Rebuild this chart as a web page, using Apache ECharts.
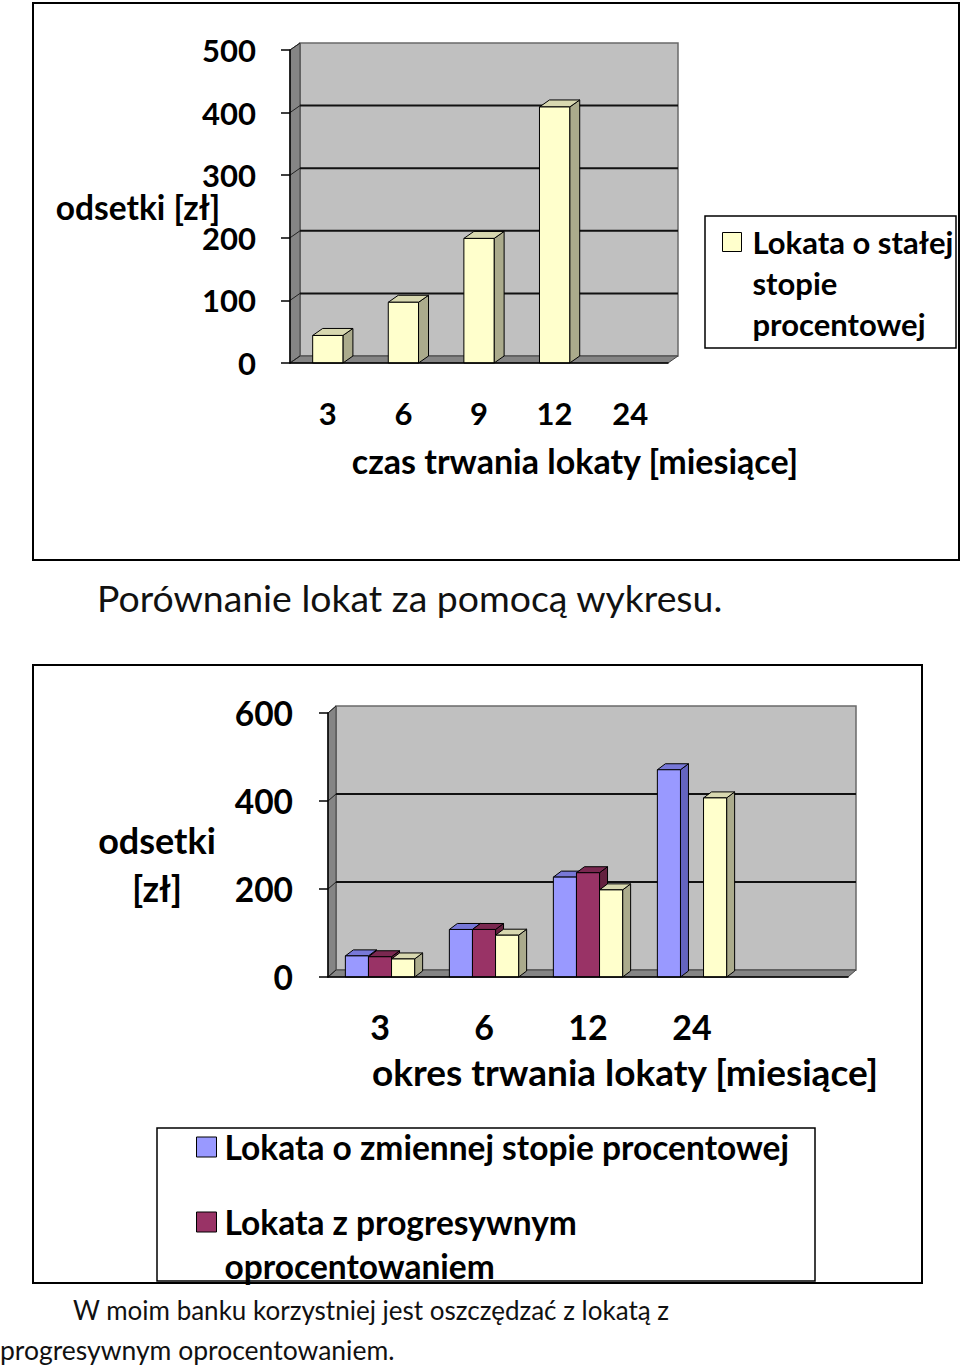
<!DOCTYPE html>
<html><head><meta charset="utf-8">
<script src="https://cdn.jsdelivr.net/npm/echarts@6/dist/echarts.min.js"></script>
<style>html,body{margin:0;padding:0;background:#fff}#c{width:960px;height:1366px}</style>
</head><body><div id="c"></div>
<script>
// ---- data ----
const topCategories = ['3', '6', '9', '12', '24'];
const topFixed = [44, 97, 199, 409, null];
const topYTicks = [0, 100, 200, 300, 400, 500];

const bottomCategories = ['3', '6', '12', '24', ''];
const bottomVariable = [48, 108, 227, 471, null];
const bottomProgressive = [46, 108, 237, null, null];
const bottomFixed = [41, 95, 198, 407, null];
const bottomYTicks = [0, 200, 400, 600];

const nameFixed = 'Lokata o stałej stopie procentowej';
const nameVariable = 'Lokata o zmiennej stopie procentowej';
const nameProgressive = 'Lokata z progresywnym oprocentowaniem';

const colFixed = {front: '#FFFFCC', top: '#D8D8B0', side: '#ABAB8C'};
const colVariable = {front: '#9999FF', top: '#7878D8', side: '#6464C0'};
const colProgressive = {front: '#993366', top: '#7A2850', side: '#64203F'};

const FONT = 'Lato';

function wallSeries(gi, ticks, dx, dy) {
  return {
    type: 'custom', xAxisIndex: gi, yAxisIndex: gi, z: 1, silent: true,
    data: [[0, 0]],
    renderItem(params, api) {
      const cs = params.coordSys;
      const x = cs.x, y = cs.y, w = cs.width, h = cs.height;
      const ch = [];
      ch.push({type: 'rect', shape: {x: x + dx, y: y + dy, width: w, height: h},
        style: {fill: '#C0C0C0', stroke: '#6a6a6a', lineWidth: 1.5}});
      ch.push({type: 'polygon', shape: {points: [[x, y + h], [x, y], [x + dx, y + dy], [x + dx, y + h + dy]]},
        style: {fill: '#858585', stroke: '#444', lineWidth: 1}});
      ch.push({type: 'polygon', shape: {points: [[x, y + h], [x + w, y + h], [x + w + dx, y + h + dy], [x + dx, y + h + dy]]},
        style: {fill: '#858585', stroke: '#444', lineWidth: 1}});
      const maxV = ticks[ticks.length - 1];
      ticks.forEach(v => {
        const py = api.coord([0, v])[1];
        if (v > 0 && v < maxV) {
          ch.push({type: 'line', shape: {x1: x + dx, y1: py + dy, x2: x + dx + w, y2: py + dy},
            style: {stroke: '#111', lineWidth: 2}});
        }
        ch.push({type: 'line', shape: {x1: x, y1: py, x2: x + dx, y2: py + dy},
          style: {stroke: '#222', lineWidth: 1}});
      });
      return {type: 'group', children: ch};
    }
  };
}

function bar3D(name, values, gi, k, n, ratio, col, dx, dy) {
  return {
    type: 'custom', name: name, xAxisIndex: gi, yAxisIndex: gi, z: 3,
    itemStyle: {color: col.front, borderColor: '#000', borderWidth: 1},
    encode: {x: 0, y: 1},
    data: values.map((v, i) => v == null ? null : [i, v]).filter(d => d),
    renderItem(params, api) {
      const cat = api.value(0), v = api.value(1);
      const t = api.coord([cat, v]);
      const b = api.coord([cat, 0]);
      const band = api.size([1, 0])[0];
      const bw = band * ratio;
      const x0 = t[0] - n * bw / 2 + k * bw, x1 = x0 + bw;
      const yt = t[1], yb = b[1];
      return {type: 'group', children: [
        {type: 'polygon', shape: {points: [[x1, yb], [x1, yt], [x1 + dx, yt + dy], [x1 + dx, yb + dy]]},
          style: {fill: col.side, stroke: '#000', lineWidth: 1}},
        {type: 'polygon', shape: {points: [[x0, yt], [x1, yt], [x1 + dx, yt + dy], [x0 + dx, yt + dy]]},
          style: {fill: col.top, stroke: '#000', lineWidth: 1}},
        {type: 'rect', shape: {x: x0, y: yt, width: bw, height: yb - yt},
          style: {fill: col.front, stroke: '#000', lineWidth: 1}}
      ]};
    }
  };
}

const boldLabel = (size) => ({fontFamily: FONT, fontWeight: 'bold', fontSize: size, color: '#000'});

const chart = echarts.init(document.getElementById('c'), null, {renderer: 'svg'});
chart.setOption({
  animation: false,
  backgroundColor: '#fff',
  textStyle: {fontFamily: FONT},
  grid: [
    {left: 290, top: 50, width: 378, height: 313},
    {left: 328, top: 713, width: 520, height: 264}
  ],
  xAxis: [
    {type: 'category', gridIndex: 0, data: topCategories, z: 5,
      axisLine: {lineStyle: {color: '#000', width: 1.5}},
      axisTick: {length: 9, lineStyle: {color: '#000', width: 1.5}},
      axisLabel: Object.assign({margin: 34}, boldLabel(31)),
      name: 'czas trwania lokaty [miesiące]', nameLocation: 'middle', nameGap: 80, nameMoveOverlap: false,
      nameTextStyle: Object.assign({padding: [0, 0, 0, 192]}, boldLabel(34))},
    {type: 'category', gridIndex: 1, data: bottomCategories, z: 5,
      axisLine: {lineStyle: {color: '#000', width: 1.5}},
      axisTick: {length: 9, lineStyle: {color: '#000', width: 1.5}},
      axisLabel: Object.assign({margin: 32}, boldLabel(34)),
      name: 'okres trwania lokaty [miesiące]', nameLocation: 'middle', nameGap: 76, nameMoveOverlap: false,
      nameTextStyle: Object.assign({padding: [0, 0, 0, 74]}, boldLabel(37))}
  ],
  yAxis: [
    {type: 'value', gridIndex: 0, min: topYTicks[0], max: topYTicks[topYTicks.length - 1], interval: 100, z: 5,
      axisLine: {show: true, lineStyle: {color: '#000', width: 1.5}},
      axisTick: {show: true, length: 9, lineStyle: {color: '#000', width: 1.5}},
      splitLine: {show: false},
      axisLabel: Object.assign({margin: 34}, boldLabel(31)),
      name: 'odsetki [zł]', nameLocation: 'middle', nameRotate: 0, nameGap: 152, nameMoveOverlap: false,
      nameTextStyle: Object.assign({align: 'center', verticalAlign: 'middle'}, boldLabel(33.5))},
    {type: 'value', gridIndex: 1, min: bottomYTicks[0], max: bottomYTicks[bottomYTicks.length - 1], interval: 200, z: 5,
      axisLine: {show: true, lineStyle: {color: '#000', width: 1.5}},
      axisTick: {show: true, length: 9, lineStyle: {color: '#000', width: 1.5}},
      splitLine: {show: false},
      axisLabel: Object.assign({margin: 35}, boldLabel(33.5)),
      name: '{s| }\n{a|odsetki}\n{a|[zł]}', nameLocation: 'middle', nameRotate: 0, nameGap: 171, nameMoveOverlap: false,
      nameTextStyle: Object.assign({align: 'center', verticalAlign: 'middle', rich: {
        s: {fontSize: 10, lineHeight: 38},
        a: Object.assign({lineHeight: 48}, boldLabel(36))
      }}, boldLabel(36))}
  ],
  legend: [
    {data: [nameFixed], left: 722, top: 139.5, orient: 'vertical', padding: 0, selectedMode: false,
      icon: 'rect', itemWidth: 19, itemHeight: 19, itemStyle: {borderColor: '#000', borderWidth: 1},
      formatter: () => '\n\nLokata o stałej\nstopie\nprocentowej',
      textStyle: Object.assign({lineHeight: 41, padding: [0, 0, 0, 6]}, boldLabel(31))},
    {data: [nameVariable], left: 196, top: 1125, orient: 'vertical', padding: 0, selectedMode: false,
      icon: 'rect', itemWidth: 20, itemHeight: 20, itemStyle: {borderColor: '#000', borderWidth: 1},
      textStyle: Object.assign({lineHeight: 44, padding: [0, 0, 0, 3]}, boldLabel(33.5))},
    {data: [nameProgressive], left: 196, top: 1156, orient: 'vertical', padding: 0, selectedMode: false,
      icon: 'rect', itemWidth: 20, itemHeight: 20, itemStyle: {borderColor: '#000', borderWidth: 1},
      formatter: () => '\nLokata z progresywnym\noprocentowaniem',
      textStyle: Object.assign({lineHeight: 44, padding: [0, 0, 0, 3]}, boldLabel(33.5))}
  ],
  graphic: [
    {type: 'rect', shape: {x: 33, y: 3, width: 926, height: 557}, style: {fill: 'none', stroke: '#000', lineWidth: 2}, z: 10},
    {type: 'rect', shape: {x: 33, y: 665, width: 889, height: 618}, style: {fill: 'none', stroke: '#000', lineWidth: 2}, z: 10},
    {type: 'rect', shape: {x: 705, y: 216, width: 251, height: 132}, style: {fill: 'none', stroke: '#000', lineWidth: 1.5}, z: 10},
    {type: 'rect', shape: {x: 157, y: 1128, width: 658, height: 153}, style: {fill: 'none', stroke: '#000', lineWidth: 1.5}, z: 10},
    {type: 'text', x: 97, y: 597, style: {text: 'Porównanie lokat za pomocą wykresu.', fontFamily: FONT, fontSize: 37.4, fill: '#111', verticalAlign: 'middle'}},
    {type: 'text', x: 73, y: 1310, style: {text: 'W moim banku korzystniej jest oszczędzać z lokatą z', fontFamily: FONT, fontSize: 26, fill: '#111', verticalAlign: 'middle'}},
    {type: 'text', x: 0, y: 1350, style: {text: 'progresywnym oprocentowaniem.', fontFamily: FONT, fontSize: 26.5, fill: '#111', verticalAlign: 'middle'}}
  ],
  series: [
    wallSeries(0, topYTicks, 10, -7),
    wallSeries(1, bottomYTicks, 8, -7),
    bar3D(nameFixed, topFixed, 0, 0, 1, 0.4, colFixed, 10, -7),
    bar3D(nameVariable, bottomVariable, 1, 0, 3, 0.222, colVariable, 8, -6),
    bar3D(nameProgressive, bottomProgressive, 1, 1, 3, 0.222, colProgressive, 8, -6),
    bar3D(nameFixed, bottomFixed, 1, 2, 3, 0.222, colFixed, 8, -6)
  ]
});
</script>
</body></html>
